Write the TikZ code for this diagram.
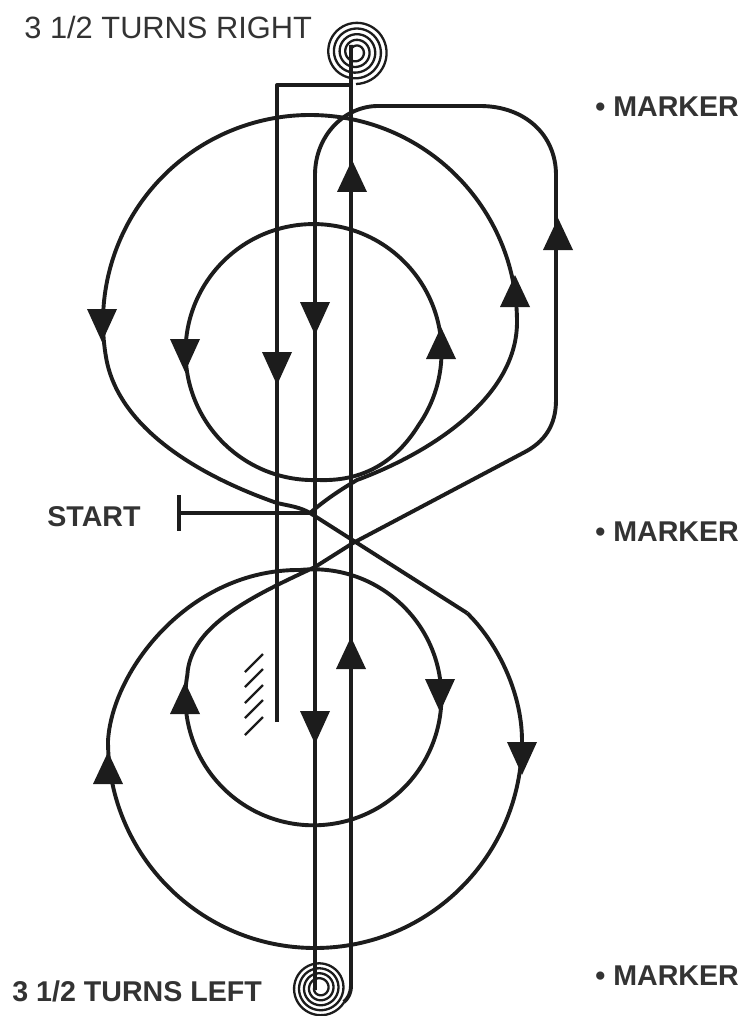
\documentclass[tikz,border=0pt]{standalone}
\usepackage{xcolor}
\usepackage{fontspec}
\setmainfont{Liberation Sans}
\usetikzlibrary{positioning}
\definecolor{inkline}{HTML}{1C1C1C}
\definecolor{labelgray}{HTML}{333333}
\tikzset{
  trackline/.style={line width=1.95pt, color=inkline, line join=round},
  coilline/.style={line width=1.15pt, color=inkline},
  hatchline/.style={line width=1.2pt, color=inkline},
  trackhead/.style={fill=inkline},
  turnlabel/.style={anchor=west, inner sep=0pt, text=labelgray, font=\fontsize{15.4}{18}\selectfont},
  boldlabel/.style={anchor=west, inner sep=0pt, text=labelgray, font=\fontsize{14.3}{18}\selectfont\bfseries},
}

\begin{document}
\begin{tikzpicture}[x=0.5pt,y=-0.5pt]
  \useasboundingbox (0,0) rectangle (744,1016);
  \fill[white] (0,0) rectangle (744,1016);

  % labels
  \node[turnlabel] (turnsright) at (24,27) {3 1/2 TURNS RIGHT};
  \node[boldlabel] (turnsleft) at (12,991) {3 1/2 TURNS LEFT};
  \node[boldlabel] (startlabel) at (47,517) {START};
  \node[boldlabel] (markertop) at (595,107) {• MARKER};
  \node[boldlabel] (markermid) at (595,532) {• MARKER};
  \node[boldlabel] (markerlow) at (595,976) {• MARKER};

  % coils
  \draw[coilline] plot[domain=0:1710, samples=240]
    ({356+(5+\x/1710*27)*cos(\x+180)},{52+(5+\x/1710*27)*sin(\x+180)});
  \draw[coilline] plot[domain=0:1590, samples=240]
    ({320+(6+\x/1590*22)*cos(180-\x)},{988+(6+\x/1590*22)*sin(180-\x)});

  % straight runs
  \coordinate (topjoin) at (351,85);
  \coordinate (stopend) at (277,722);
  \coordinate (coillow) at (344,1002);
  \draw[trackline] (stopend) -- (277,85) -- (topjoin);
  \draw[trackline] (351,45) -- (351,985) .. controls (351,994) and (348,998) .. (coillow);
  \draw[trackline] (315,990) -- (315,175) .. controls (315,135) and (345,106) .. (378,106) -- (480,106)
    .. controls (525,106) and (556,135) .. (556,175) -- (556,400)
    .. controls (556,425) and (545,442) .. (523,453) -- (353,543) -- (315,567);

  % start
  \coordinate (startpoint) at (179,513);
  \coordinate (startcross) at (310,513);
  \draw[trackline] (179,495) -- (179,531);
  \draw[trackline] (startpoint) -- (startcross);

  % upper loops
  \draw[trackline] (318,480) arc[start angle=88, end angle=395, radius=128]
    .. controls (400,455) and (370,482) .. (318,480);
  \draw[trackline] (startcross) .. controls (325,500) and (340,490) .. (357,480)
    .. controls (425,455) and (517,400) .. (517,322)
    arc[start angle=0, end angle=-190, radius=207]
    .. controls (119,431) and (205,478) .. (277,503)
    .. controls (290,506) and (300,507) .. (startcross) -- (467,613);

  % lower loops
  \draw[trackline] (467,613) .. controls (495,640) and (522,690) .. (522,741)
    arc[start angle=0, end angle=180, radius=207]
    .. controls (112,670) and (190,569) .. (300,570)
    arc[start angle=-96, end angle=190, radius=128]
    .. controls (190,625) and (255,595) .. (315,567);

  % hatching
  \foreach \y in {672,687,703,718,735}
    \draw[hatchline] (245,\y) -- (263,\y-18);

  % arrow heads, up
  \foreach \x/\y in {352/160,558/218,515/275,441/327,351/637,185/682,108/752}
    \fill[trackhead] (\x,\y) -- (\x+15,\y+32) -- (\x-15,\y+32) -- cycle;
  % arrow heads, down
  \foreach \x/\y in {315/335,277/385,185/372,102/342,440/712,315/744,522/775}
    \fill[trackhead] (\x,\y) -- (\x+15,\y-33) -- (\x-15,\y-33) -- cycle;
\end{tikzpicture}
\end{document}
